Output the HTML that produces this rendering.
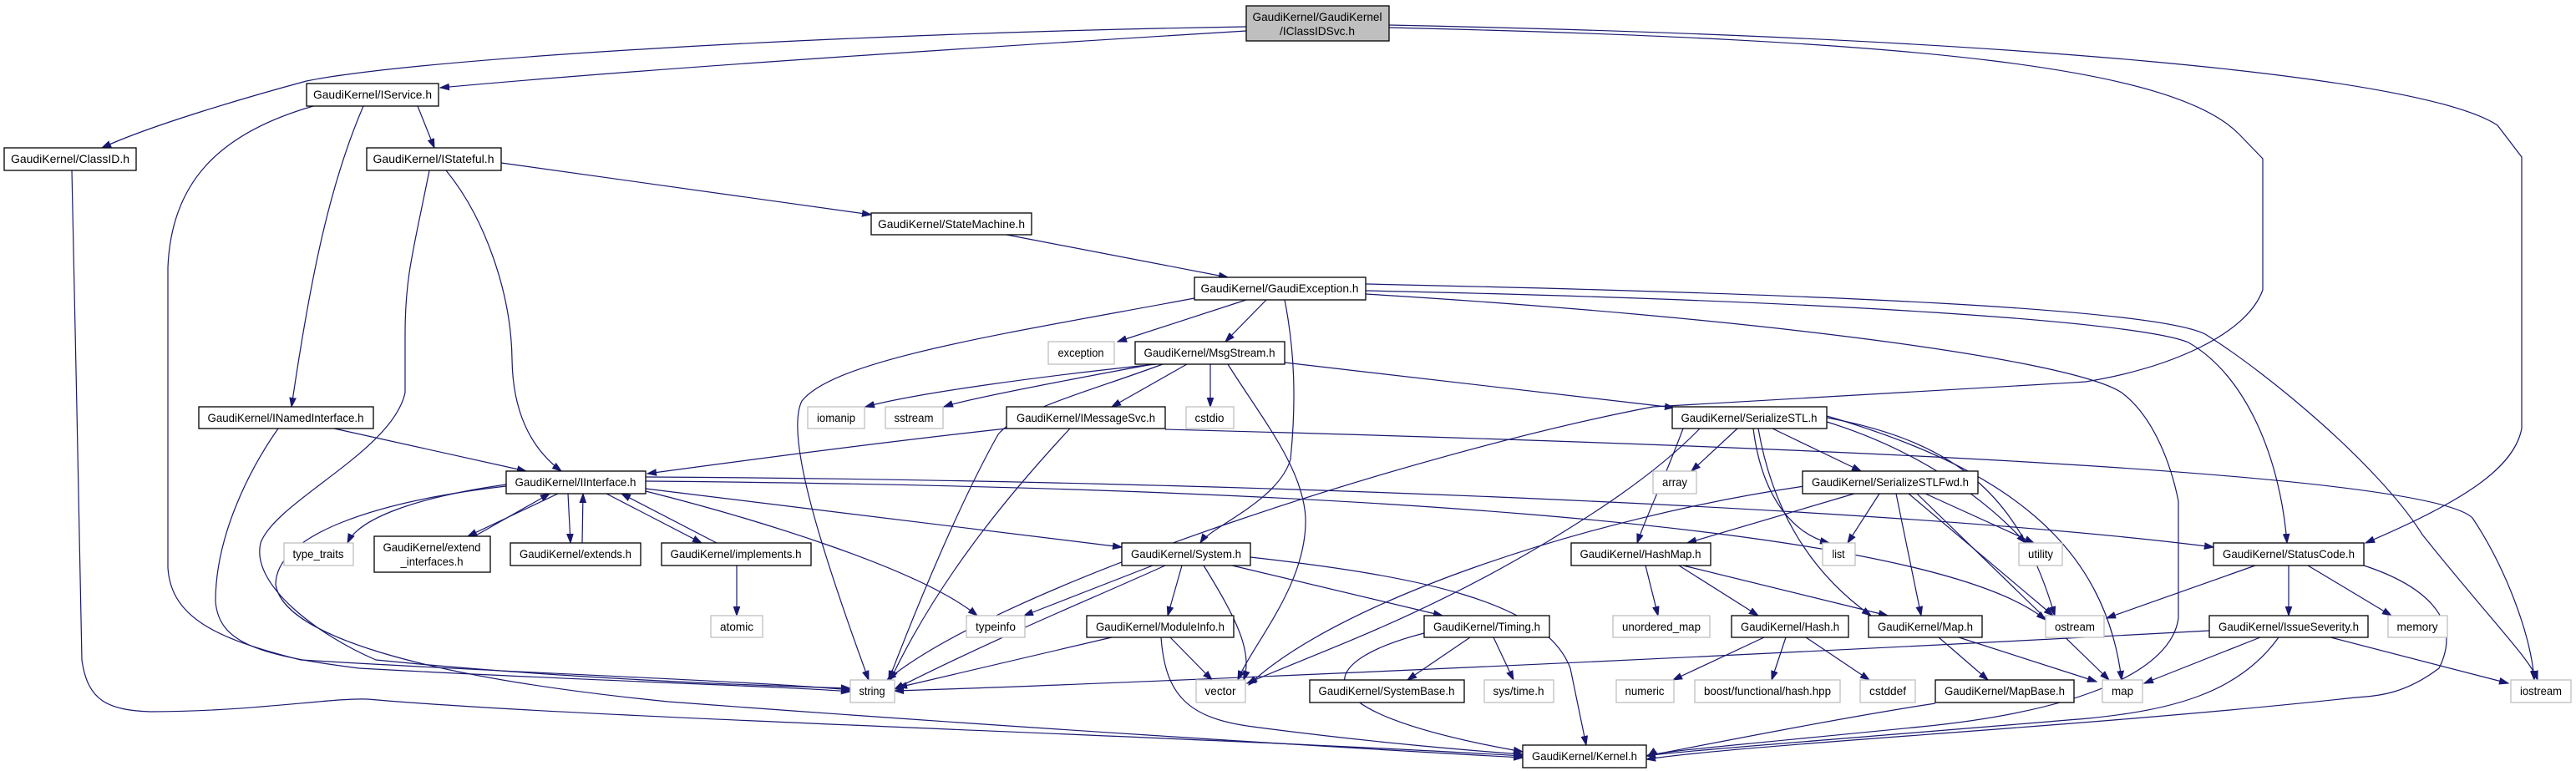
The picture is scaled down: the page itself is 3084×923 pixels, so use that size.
<!DOCTYPE html>
<html><head><meta charset="utf-8"><style>
html,body{margin:0;padding:0;background:#fff;}
svg{display:block;}
text{font-family:"Liberation Sans",sans-serif;font-size:14px;fill:#000;}
.n{fill:#fff;stroke:#000;stroke-width:1.3;}
.g{fill:#fff;stroke:#bfbfbf;stroke-width:1.3;}
.e{fill:none;stroke:#191970;stroke-width:1.2;marker-end:url(#a);}
</style></head><body>
<svg width="3084" height="923" viewBox="0 0 3084 923" xmlns="http://www.w3.org/2000/svg">
<defs><marker id="a" markerWidth="12" markerHeight="10" refX="11" refY="5" orient="auto" markerUnits="userSpaceOnUse"><path d="M0,1.2 L11,5 L0,8.8 z" fill="#191970" stroke="#191970"/></marker></defs>

<g>
<path class="e" d="M1492,37 C1200,55 800,80 527,105"/>
<path class="e" d="M1492,32 C1000,40 500,70 367,97 C300,115 180,150 122,177"/>
<path class="e" d="M1663,33 C2300,48 2600,80 2680,160 L2709,190 L2709,347 C2690,400 2600,440 2497,457 C2300,470 2100,480 1979,487 C1700,540 1200,700 1062,814"/>
<path class="e" d="M1663,30 C2400,45 2900,90 2990,150 L3019,188 L3019,513 C3010,560 2950,600 2832,650"/>
<path class="e" d="M500,127 L520,177"/>
<path class="e" d="M435,127 C395,220 372,330 349,487"/>
<path class="e" d="M375,127 C260,160 205,220 201,320 L201,680 C205,740 260,765 360,790 C600,805 900,815 1018,826"/>
<path class="e" d="M86,204 L92,490 L98,790 C105,840 130,850 180,852 C300,852 400,835 440,837 C700,860 1400,880 1823,905"/>
<path class="e" d="M600,195 L1043,257"/>
<path class="e" d="M534,204 C580,260 612,350 613,430 C614,500 640,540 672,564"/>
<path class="e" d="M514,204 C495,300 485,330 485,400 L485,470 C470,540 330,600 312,650 C300,700 380,760 450,790 C700,815 950,822 1018,824"/>
<path class="e" d="M400,513 L630,564"/>
<path class="e" d="M333,513 C300,560 258,640 258,720 C262,770 310,785 430,800 C700,815 950,822 1018,828"/>
<path class="e" d="M1205,281 L1470,332"/>
<path class="e" d="M1492,359 L1338,409"/>
<path class="e" d="M1516,359 L1467,409"/>
<path class="e" d="M1430,357 C1200,400 1000,430 960,480 C940,520 980,650 1040,814"/>
<path class="e" d="M1538,359 C1550,420 1552,480 1545,550 C1530,600 1450,630 1437,650"/>
<path class="e" d="M1635,348 C2200,360 2560,385 2620,410 C2690,450 2730,550 2738,650"/>
<path class="e" d="M1635,340 C2200,352 2580,370 2640,400 C2720,450 2850,560 2900,640 C2980,740 3030,790 3038,814"/>
<path class="e" d="M1635,352 C2100,380 2480,430 2540,470 C2580,500 2600,560 2608,600 L2608,740 C2600,800 2500,850 2300,870 C2100,890 1980,900 1973,905"/>
<path class="e" d="M1384,436 C1250,450 1100,470 1036,487"/>
<path class="e" d="M1380,436 C1250,460 1150,480 1130,487"/>
<path class="e" d="M1421,436 L1331,487"/>
<path class="e" d="M1449,436 L1449,487"/>
<path class="e" d="M1538,434 L2004,488"/>
<path class="e" d="M1392,436 C1300,470 1220,490 1195,520 C1150,600 1100,720 1064,814"/>
<path class="e" d="M1470,436 C1510,500 1560,560 1563,620 C1565,700 1500,770 1482,814"/>
<path class="e" d="M1205,513 C1050,530 900,550 775,567"/>
<path class="e" d="M1281,513 C1200,600 1120,700 1066,814"/>
<path class="e" d="M1395,514 C2000,530 2900,560 2960,620 C3000,680 3030,760 3034,814"/>
<path class="e" d="M606,580 C500,595 430,620 416,650"/>
<path class="e" d="M668,591 L560,642"/>
<path class="e" d="M568,642 L658,591"/>
<path class="e" d="M680,591 L683,650"/>
<path class="e" d="M697,650 L698,591"/>
<path class="e" d="M726,591 L840,650"/>
<path class="e" d="M858,650 L744,591"/>
<path class="e" d="M882,677 L882,737"/>
<path class="e" d="M773,585 L1343,655"/>
<path class="e" d="M773,588 C900,620 1100,680 1170,737"/>
<path class="e" d="M773,576 C1500,582 2300,620 2449,742"/>
<path class="e" d="M773,571 C1500,575 2300,610 2650,655"/>
<path class="e" d="M606,582 C450,600 330,640 330,700 C340,760 500,810 800,840 C1200,870 1600,895 1823,907"/>
<path class="e" d="M1380,677 L1226,737"/>
<path class="e" d="M1395,677 C1300,720 1200,760 1071,825"/>
<path class="e" d="M1415,677 L1398,737"/>
<path class="e" d="M1441,677 C1480,740 1500,780 1489,814"/>
<path class="e" d="M1475,677 L1727,737"/>
<path class="e" d="M1497,667 C1700,690 1850,720 1880,800 L1899,892"/>
<path class="e" d="M1331,763 L1075,823"/>
<path class="e" d="M1401,763 L1451,814"/>
<path class="e" d="M1390,763 C1395,830 1420,860 1500,870 C1650,890 1780,900 1823,903"/>
<path class="e" d="M1760,763 L1685,814"/>
<path class="e" d="M1788,763 L1812,814"/>
<path class="e" d="M1705,758 C1580,790 1540,850 1823,900"/>
<path class="e" d="M1970,677 L1985,737"/>
<path class="e" d="M2010,677 L2105,737"/>
<path class="e" d="M2015,677 L2260,737"/>
<path class="e" d="M2112,763 L2003,814"/>
<path class="e" d="M2138,763 L2121,814"/>
<path class="e" d="M2162,763 L2238,814"/>
<path class="e" d="M2321,763 L2380,814"/>
<path class="e" d="M2345,763 L2510,816"/>
<path class="e" d="M2317,842 C2200,860 2050,890 1971,905"/>
<path class="e" d="M2700,677 L2522,740"/>
<path class="e" d="M2740,677 L2740,737"/>
<path class="e" d="M2763,677 L2863,737"/>
<path class="e" d="M2830,677 C2900,700 2950,740 2920,800 C2880,830 2850,833 2820,835 C2500,870 2100,890 1971,909"/>
<path class="e" d="M2645,755 C2000,790 1300,820 1071,827"/>
<path class="e" d="M2706,763 L2567,818"/>
<path class="e" d="M2790,763 L3003,818"/>
<path class="e" d="M2728,763 C2680,830 2600,850 2500,860 C2200,885 2000,900 1971,905"/>
<path class="e" d="M2080,513 L2025,564"/>
<path class="e" d="M2122,513 L2228,564"/>
<path class="e" d="M2035,513 C1980,570 1900,620 1850,650 C1700,740 1580,780 1493,818"/>
<path class="e" d="M2099,513 C2110,600 2150,640 2190,650"/>
<path class="e" d="M2015,513 C1990,580 1970,620 1960,650"/>
<path class="e" d="M2105,513 C2120,600 2160,680 2240,737"/>
<path class="e" d="M2187,500 C2350,530 2420,600 2460,737"/>
<path class="e" d="M2187,505 C2300,540 2380,600 2425,650"/>
<path class="e" d="M2187,498 C2400,560 2520,650 2540,814"/>
<path class="e" d="M2160,582 C1900,620 1600,720 1495,820"/>
<path class="e" d="M2220,591 L2020,650"/>
<path class="e" d="M2250,591 L2212,650"/>
<path class="e" d="M2270,591 L2300,737"/>
<path class="e" d="M2285,591 L2458,737"/>
<path class="e" d="M2295,591 L2525,814"/>
<path class="e" d="M2305,591 L2435,650"/>
</g>

<g>
<rect x="1492" y="7" width="171" height="42" fill="#bfbfbf" stroke="#000" stroke-width="1.3"/>
<text x="1577" y="25" text-anchor="middle" textLength="155" lengthAdjust="spacingAndGlyphs">GaudiKernel/GaudiKernel</text>
<text x="1577" y="42" text-anchor="middle" textLength="90" lengthAdjust="spacingAndGlyphs">/IClassIDSvc.h</text>

<rect class="n" x="367" y="100" width="158" height="27"/><text x="446" y="118" text-anchor="middle" textLength="142" lengthAdjust="spacingAndGlyphs">GaudiKernel/IService.h</text>
<rect class="n" x="5" y="177" width="158" height="27"/><text x="84" y="195" text-anchor="middle" textLength="142" lengthAdjust="spacingAndGlyphs">GaudiKernel/ClassID.h</text>
<rect class="n" x="439" y="177" width="161" height="27"/><text x="519" y="195" text-anchor="middle" textLength="145" lengthAdjust="spacingAndGlyphs">GaudiKernel/IStateful.h</text>
<rect class="n" x="1043" y="255" width="192" height="26"/><text x="1139" y="273" text-anchor="middle" textLength="176" lengthAdjust="spacingAndGlyphs">GaudiKernel/StateMachine.h</text>
<rect class="n" x="1430" y="332" width="205" height="27"/><text x="1532" y="350" text-anchor="middle" textLength="189" lengthAdjust="spacingAndGlyphs">GaudiKernel/GaudiException.h</text>
<rect class="g" x="1255" y="409" width="79" height="27"/><text x="1294" y="427" text-anchor="middle" textLength="55" lengthAdjust="spacingAndGlyphs">exception</text>
<rect class="n" x="1359" y="409" width="179" height="27"/><text x="1448" y="427" text-anchor="middle" textLength="157" lengthAdjust="spacingAndGlyphs">GaudiKernel/MsgStream.h</text>
<rect class="n" x="238" y="487" width="209" height="26"/><text x="342" y="505" text-anchor="middle" textLength="187" lengthAdjust="spacingAndGlyphs">GaudiKernel/INamedInterface.h</text>
<rect class="g" x="967" y="487" width="68" height="26"/><text x="1001" y="505" text-anchor="middle" textLength="46" lengthAdjust="spacingAndGlyphs">iomanip</text>
<rect class="g" x="1060" y="487" width="69" height="26"/><text x="1094" y="505" text-anchor="middle" textLength="47" lengthAdjust="spacingAndGlyphs">sstream</text>
<rect class="n" x="1205" y="487" width="190" height="26"/><text x="1300" y="505" text-anchor="middle" textLength="166" lengthAdjust="spacingAndGlyphs">GaudiKernel/IMessageSvc.h</text>
<rect class="g" x="1420" y="487" width="57" height="26"/><text x="1448" y="505" text-anchor="middle" textLength="35" lengthAdjust="spacingAndGlyphs">cstdio</text>
<rect class="n" x="2002" y="487" width="185" height="26"/><text x="2094" y="505" text-anchor="middle" textLength="163" lengthAdjust="spacingAndGlyphs">GaudiKernel/SerializeSTL.h</text>
<rect class="n" x="606" y="564" width="167" height="27"/><text x="689" y="582" text-anchor="middle" textLength="145" lengthAdjust="spacingAndGlyphs">GaudiKernel/IInterface.h</text>
<rect class="g" x="1979" y="564" width="52" height="27"/><text x="2005" y="582" text-anchor="middle" textLength="30" lengthAdjust="spacingAndGlyphs">array</text>
<rect class="n" x="2158" y="564" width="210" height="27"/><text x="2263" y="582" text-anchor="middle" textLength="188" lengthAdjust="spacingAndGlyphs">GaudiKernel/SerializeSTLFwd.h</text>
<rect class="g" x="340" y="650" width="83" height="27"/><text x="381" y="668" text-anchor="middle" textLength="61" lengthAdjust="spacingAndGlyphs">type_traits</text>
<rect class="n" x="448" y="642" width="139" height="43"/><text x="517" y="660" text-anchor="middle" textLength="117" lengthAdjust="spacingAndGlyphs">GaudiKernel/extend</text><text x="517" y="677" text-anchor="middle" textLength="75" lengthAdjust="spacingAndGlyphs">_interfaces.h</text>
<rect class="n" x="611" y="650" width="156" height="27"/><text x="689" y="668" text-anchor="middle" textLength="134" lengthAdjust="spacingAndGlyphs">GaudiKernel/extends.h</text>
<rect class="n" x="792" y="650" width="179" height="27"/><text x="881" y="668" text-anchor="middle" textLength="157" lengthAdjust="spacingAndGlyphs">GaudiKernel/implements.h</text>
<rect class="n" x="1343" y="650" width="154" height="27"/><text x="1420" y="668" text-anchor="middle" textLength="132" lengthAdjust="spacingAndGlyphs">GaudiKernel/System.h</text>
<rect class="n" x="1881" y="650" width="167" height="27"/><text x="1964" y="668" text-anchor="middle" textLength="145" lengthAdjust="spacingAndGlyphs">GaudiKernel/HashMap.h</text>
<rect class="g" x="2182" y="650" width="39" height="27"/><text x="2201" y="668" text-anchor="middle" textLength="15" lengthAdjust="spacingAndGlyphs">list</text>
<rect class="g" x="2417" y="650" width="52" height="27"/><text x="2443" y="668" text-anchor="middle" textLength="30" lengthAdjust="spacingAndGlyphs">utility</text>
<rect class="n" x="2650" y="650" width="180" height="27"/><text x="2740" y="668" text-anchor="middle" textLength="158" lengthAdjust="spacingAndGlyphs">GaudiKernel/StatusCode.h</text>
<rect class="g" x="851" y="737" width="62" height="26"/><text x="882" y="755" text-anchor="middle" textLength="40" lengthAdjust="spacingAndGlyphs">atomic</text>
<rect class="g" x="1157" y="737" width="70" height="26"/><text x="1192" y="755" text-anchor="middle" textLength="48" lengthAdjust="spacingAndGlyphs">typeinfo</text>
<rect class="n" x="1301" y="737" width="176" height="26"/><text x="1389" y="755" text-anchor="middle" textLength="154" lengthAdjust="spacingAndGlyphs">GaudiKernel/ModuleInfo.h</text>
<rect class="n" x="1705" y="737" width="150" height="26"/><text x="1780" y="755" text-anchor="middle" textLength="128" lengthAdjust="spacingAndGlyphs">GaudiKernel/Timing.h</text>
<rect class="g" x="1931" y="737" width="116" height="26"/><text x="1989" y="755" text-anchor="middle" textLength="94" lengthAdjust="spacingAndGlyphs">unordered_map</text>
<rect class="n" x="2073" y="737" width="140" height="26"/><text x="2143" y="755" text-anchor="middle" textLength="118" lengthAdjust="spacingAndGlyphs">GaudiKernel/Hash.h</text>
<rect class="n" x="2237" y="737" width="136" height="26"/><text x="2305" y="755" text-anchor="middle" textLength="114" lengthAdjust="spacingAndGlyphs">GaudiKernel/Map.h</text>
<rect class="g" x="2449" y="737" width="70" height="26"/><text x="2484" y="755" text-anchor="middle" textLength="48" lengthAdjust="spacingAndGlyphs">ostream</text>
<rect class="n" x="2645" y="737" width="190" height="26"/><text x="2740" y="755" text-anchor="middle" textLength="168" lengthAdjust="spacingAndGlyphs">GaudiKernel/IssueSeverity.h</text>
<rect class="g" x="2859" y="737" width="71" height="26"/><text x="2894" y="755" text-anchor="middle" textLength="49" lengthAdjust="spacingAndGlyphs">memory</text>
<rect class="g" x="1018" y="814" width="53" height="27"/><text x="1044" y="832" text-anchor="middle" textLength="31" lengthAdjust="spacingAndGlyphs">string</text>
<rect class="g" x="1432" y="814" width="59" height="27"/><text x="1461" y="832" text-anchor="middle" textLength="37" lengthAdjust="spacingAndGlyphs">vector</text>
<rect class="n" x="1568" y="814" width="185" height="27"/><text x="1660" y="832" text-anchor="middle" textLength="163" lengthAdjust="spacingAndGlyphs">GaudiKernel/SystemBase.h</text>
<rect class="g" x="1777" y="814" width="83" height="27"/><text x="1818" y="832" text-anchor="middle" textLength="61" lengthAdjust="spacingAndGlyphs">sys/time.h</text>
<rect class="g" x="1935" y="814" width="69" height="27"/><text x="1969" y="832" text-anchor="middle" textLength="47" lengthAdjust="spacingAndGlyphs">numeric</text>
<rect class="g" x="2029" y="814" width="174" height="27"/><text x="2116" y="832" text-anchor="middle" textLength="152" lengthAdjust="spacingAndGlyphs">boost/functional/hash.hpp</text>
<rect class="g" x="2227" y="814" width="66" height="27"/><text x="2260" y="832" text-anchor="middle" textLength="44" lengthAdjust="spacingAndGlyphs">cstddef</text>
<rect class="n" x="2317" y="814" width="166" height="27"/><text x="2400" y="832" text-anchor="middle" textLength="144" lengthAdjust="spacingAndGlyphs">GaudiKernel/MapBase.h</text>
<rect class="g" x="2517" y="814" width="48" height="27"/><text x="2541" y="832" text-anchor="middle" textLength="26" lengthAdjust="spacingAndGlyphs">map</text>
<rect class="g" x="3006" y="814" width="72" height="27"/><text x="3042" y="832" text-anchor="middle" textLength="50" lengthAdjust="spacingAndGlyphs">iostream</text>
<rect class="n" x="1823" y="892" width="148" height="27"/><text x="1897" y="910" text-anchor="middle" textLength="126" lengthAdjust="spacingAndGlyphs">GaudiKernel/Kernel.h</text>
</g>
</svg>
</body></html>
